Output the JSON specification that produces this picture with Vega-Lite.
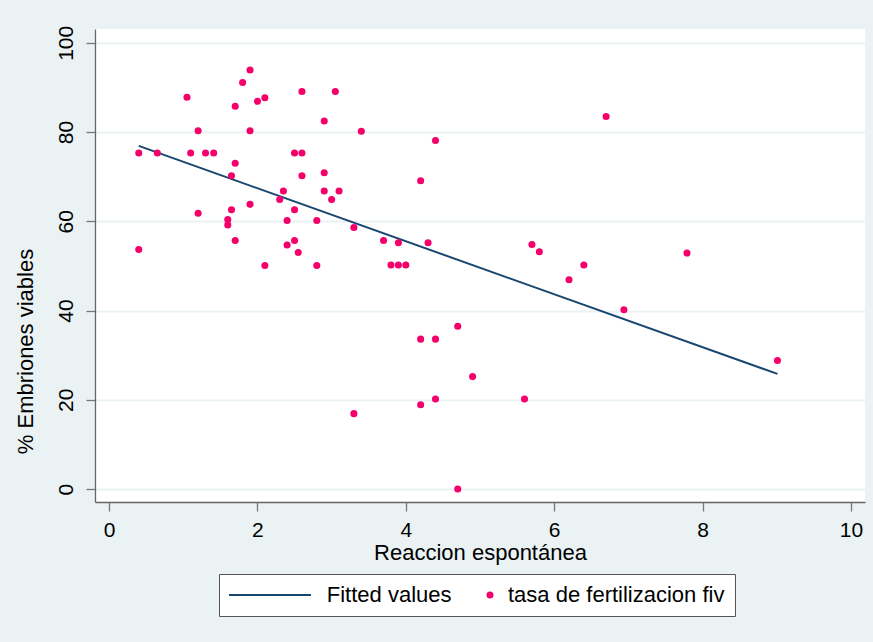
{
  "$schema": "https://vega.github.io/schema/vega-lite/v6.json",
  "width": 770,
  "height": 473,
  "autosize": {"type": "none"},
  "padding": {"left": 95, "top": 29, "right": 8, "bottom": 140},
  "background": "#eaf2f3",
  "config": {
    "font": "Liberation Sans",
    "view": {"fill": "white", "stroke": null},
    "axis": {
      "domainColor": "#666666",
      "domainWidth": 1.3,
      "tickColor": "#777777",
      "tickWidth": 1.3,
      "tickSize": 9,
      "labelColor": "#000000",
      "titleColor": "#000000",
      "labelFontSize": 21,
      "titleFontSize": 22,
      "titleFontWeight": "normal",
      "labelFont": "Liberation Sans",
      "titleFont": "Liberation Sans"
    },
    "legend": {
      "labelFont": "Liberation Sans",
      "labelFontSize": 22,
      "labelColor": "#000000",
      "labelLimit": 400,
      "titleFont": "Liberation Sans",
      "titleFontSize": 22,
      "titleFontWeight": "normal",
      "titleColor": "#000000",
      "titleLimit": 500
    }
  },
  "resolve": {"scale": {"color": "independent"}, "legend": {"color": "independent"}},
  "datasets": {
    "pts": [
      {"x": 0.4, "y": 75.3}, {"x": 0.4, "y": 53.7}, {"x": 0.65, "y": 75.3}, {"x": 1.05, "y": 87.8},
      {"x": 1.1, "y": 75.3}, {"x": 1.2, "y": 80.3}, {"x": 1.2, "y": 61.8}, {"x": 1.3, "y": 75.3},
      {"x": 1.41, "y": 75.3}, {"x": 1.6, "y": 60.4}, {"x": 1.6, "y": 59.2}, {"x": 1.65, "y": 70.2},
      {"x": 1.7, "y": 73.0}, {"x": 1.7, "y": 55.7}, {"x": 1.65, "y": 62.6}, {"x": 1.7, "y": 85.8},
      {"x": 1.8, "y": 91.1}, {"x": 1.9, "y": 93.9}, {"x": 1.9, "y": 80.3}, {"x": 1.9, "y": 63.8},
      {"x": 2.0, "y": 86.9}, {"x": 2.1, "y": 87.7}, {"x": 2.1, "y": 50.1}, {"x": 2.3, "y": 64.9},
      {"x": 2.35, "y": 66.8}, {"x": 2.4, "y": 60.2}, {"x": 2.4, "y": 54.7}, {"x": 2.5, "y": 62.6},
      {"x": 2.5, "y": 55.7}, {"x": 2.5, "y": 75.3}, {"x": 2.6, "y": 75.3}, {"x": 2.6, "y": 70.2},
      {"x": 2.55, "y": 53.0}, {"x": 2.6, "y": 89.1}, {"x": 2.8, "y": 60.2}, {"x": 2.8, "y": 50.1},
      {"x": 2.9, "y": 82.5}, {"x": 2.9, "y": 70.9}, {"x": 2.9, "y": 66.8}, {"x": 3.0, "y": 64.9},
      {"x": 3.05, "y": 89.1}, {"x": 3.1, "y": 66.8}, {"x": 3.4, "y": 80.2}, {"x": 3.3, "y": 58.6},
      {"x": 4.4, "y": 78.1}, {"x": 4.2, "y": 69.1}, {"x": 3.7, "y": 55.7}, {"x": 3.9, "y": 55.2},
      {"x": 4.3, "y": 55.2}, {"x": 3.8, "y": 50.2}, {"x": 3.9, "y": 50.2}, {"x": 4.0, "y": 50.2},
      {"x": 4.2, "y": 33.6}, {"x": 4.4, "y": 33.6}, {"x": 4.7, "y": 36.5}, {"x": 4.9, "y": 25.2},
      {"x": 4.2, "y": 18.9}, {"x": 4.4, "y": 20.2}, {"x": 5.6, "y": 20.2}, {"x": 3.3, "y": 16.9},
      {"x": 4.7, "y": 0}, {"x": 5.7, "y": 54.8}, {"x": 5.8, "y": 53.2}, {"x": 6.7, "y": 83.5},
      {"x": 6.2, "y": 46.9}, {"x": 6.4, "y": 50.2}, {"x": 7.79, "y": 52.9}, {"x": 6.94, "y": 40.2},
      {"x": 9.01, "y": 28.8}
    ],
    "fit": [
      {"x": 0.4, "y": 76.9},
      {"x": 9.01, "y": 25.8}
    ]
  },
  "layer": [
    {
      "data": {"name": "fit"},
      "mark": {"type": "line", "strokeWidth": 2},
      "encoding": {
        "x": {
          "field": "x", "type": "quantitative",
          "scale": {"domain": [-0.19, 10.19], "nice": false, "zero": false},
          "axis": {
            "values": [0, 2, 4, 6, 8, 10],
            "format": "d",
            "grid": false,
            "labelPadding": 8,
            "title": "Reaccion espontánea",
            "titleY": 50,
            "titleBaseline": "middle"
          }
        },
        "y": {
          "field": "y", "type": "quantitative",
          "scale": {"domain": [-2.9, 103.1], "nice": false, "zero": false},
          "axis": {
            "values": [0, 20, 40, 60, 80, 100],
            "format": "d",
            "grid": true,
            "gridColor": "#eaf2f3",
            "gridWidth": 2,
            "labelAngle": -90,
            "labelAlign": "center",
            "labelBaseline": "bottom",
            "labelPadding": 10,
            "title": "% Embriones viables",
            "titleX": -70,
            "titleY": 322,
            "titleAlign": "center",
            "titleBaseline": "middle",
            "titleAngle": -90
          }
        },
        "color": {
          "datum": "Fitted values", "type": "nominal",
          "scale": {"domain": ["Fitted values"], "range": ["#1a476f"]},
          "legend": {
            "title": null,
            "orient": "none",
            "legendX": 133,
            "legendY": 524,
            "padding": 0,
            "symbolType": "stroke",
            "symbolSize": 6724,
            "symbolStrokeWidth": 2,
            "symbolStrokeColor": "#1a476f",
            "labelExpr": "''",
            "zindex": 2
          }
        }
      }
    },
    {
      "data": {"name": "pts"},
      "mark": {"type": "point", "filled": true, "size": 50, "opacity": 1},
      "encoding": {
        "x": {"field": "x", "type": "quantitative"},
        "y": {"field": "y", "type": "quantitative"},
        "color": {
          "datum": "tasa de fertilizacion fiv", "type": "nominal",
          "scale": {"domain": ["tasa de fertilizacion fiv"], "range": ["#f5006b"]},
          "legend": {
            "title": "\u200b\u00a0\u00a0\u00a0\u00a0\u00a0\u00a0\u00a0\u00a0\u00a0\u00a0\u00a0\u00a0\u00a0\u00a0\u00a0\u00a0Fitted values",
            "titleOrient": "left",
            "titlePadding": 27,
            "orient": "none",
            "legendX": 124,
            "legendY": 545,
            "padding": 10,
            "symbolType": "circle",
            "symbolSize": 50,
            "labelOffset": 7,
            "strokeColor": "#555555",
            "fillColor": "#ffffff",
            "zindex": 1
          }
        }
      }
    }
  ]
}
